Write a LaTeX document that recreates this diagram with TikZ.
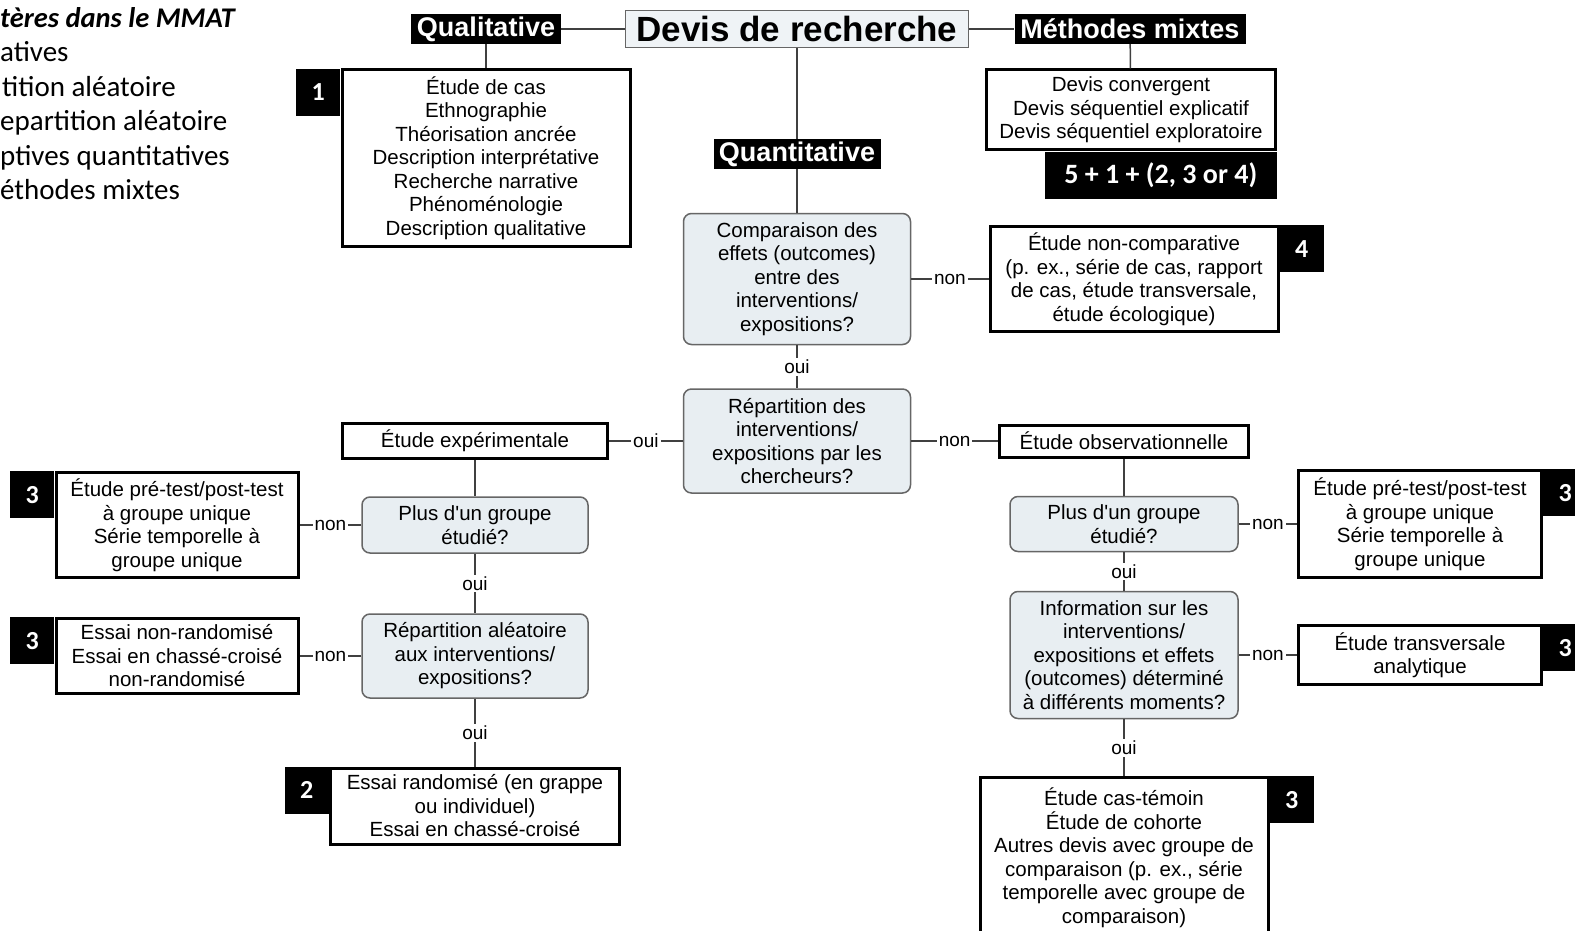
\documentclass[tikz,border=0pt]{standalone}
\usepackage{fontspec}
\setmainfont{Liberation Sans}
\newfontfamily\calibri{Carlito}
\usepackage{tikz}
\usetikzlibrary{positioning}

\definecolor{qfill}{HTML}{E8EEF2}
\definecolor{tfill}{HTML}{EFF3F6}
\definecolor{lineg}{HTML}{404040}

\tikzset{
  body/.style={font=\fontsize{20.5}{23.5}\selectfont},
  head/.style={fill=black,text=white,inner sep=0pt,minimum height=30,font=\fontsize{27}{30}\selectfont\bfseries},
  title/.style={fill=tfill,draw=gray!80!black,line width=1.5,inner sep=0pt,font=\fontsize{35}{38}\selectfont\bfseries},
  quest/.style={body,align=center,rounded corners=8,fill=qfill,draw=gray!80!black,line width=1.5,inner sep=3},
  res/.style={body,align=center,fill=white,draw=black,line width=3,inner sep=3},
  tag/.style={fill=black,text=white,inner sep=0pt,minimum width=44,minimum height=47,font=\calibri\bfseries\fontsize{26}{28}\selectfont},
  link/.style={draw=lineg,line width=1.5},
  lbl/.style={fill=white,inner sep=2,font=\fontsize{19}{21}\selectfont},
  side/.style={anchor=base west,inner sep=0pt,font=\calibri\fontsize{29}{31}\selectfont}
}

\begin{document}
\begin{tikzpicture}[x=1pt,y=-1pt]
    \useasboundingbox (0,0) rectangle (1575,931);
    \clip (0,0) rectangle (1575,931);
    \fill[white] (0,0) rectangle (1575,931);

    % texte coupé à gauche
    \node[side,font=\calibri\bfseries\itshape\fontsize{28.5}{30}\selectfont] (crit) at (0,28) {tères dans le MMAT};
    \node[side] (c1) at (0,62) {atives};
    \node[side] (c2) at (2,96.5) {tition aléatoire};
    \node[side] (c3) at (0,131) {epartition aléatoire};
    \node[side] (c4) at (0,165.5) {ptives quantitatives};
    \node[side] (c5) at (0,200) {éthodes mixtes};

    % en-tête
    \node[head,minimum width=150] (qual) at (486,29) {Qualitative};
    \node[title,minimum width=343,minimum height=37] (devis) at (797,29) {Devis de recherche};
    \node[head,minimum width=231] (mixte) at (1130,29) {Méthodes mixtes};

    \node[res,minimum width=288,minimum height=176] (qlist) at (486,158) {Étude de cas\\Ethnographie\\Théorisation ancrée\\Description interprétative\\Recherche narrative\\Phénoménologie\\Description qualitative};
    \node[tag,anchor=north east] (t1) at (qlist.north west) {1};

    \node[res,minimum width=289,minimum height=80] (mlist) at (1131,110) {Devis convergent\\Devis séquentiel explicatif\\Devis séquentiel exploratoire};
    \node[tag,anchor=north east,minimum width=232,font=\calibri\bfseries\fontsize{28}{30}\selectfont] (t5) at (mlist.south east) {5 + 1 + (2, 3 or 4)};

    % branche quantitative
    \node[head,minimum width=167] (quant) at (797,154) {Quantitative};
    \node[quest,minimum width=227,minimum height=131] (cmp) at (797,279) {Comparaison des\\effets (outcomes)\\entre des\\interventions/\\expositions?};
    \node[res,minimum width=288,minimum height=105] (ncmp) at (1134,279) {Étude non-comparative\\(p. ex., série de cas, rapport\\de cas, étude transversale,\\étude écologique)};
    \node[tag,anchor=north west] (t4) at (ncmp.north east) {4};

    \node[quest,minimum width=227,minimum height=104] (rep) at (797,441) {Répartition des\\interventions/\\expositions par les\\chercheurs?};
    \node[res,minimum width=265,minimum height=35] (exp) at (475,441) {Étude expérimentale};
    \node[res,minimum width=249,minimum height=32] (obs) at (1124,441) {Étude observationnelle};

    % côté expérimental
    \node[quest,minimum width=226,minimum height=56] (plusg) at (475,525) {Plus d\textquotesingle un groupe\\étudié?};
    \node[res,minimum width=242,minimum height=105] (prtg) at (177,525) {Étude pré-test/post-test\\à groupe unique\\Série temporelle à\\groupe unique};
    \node[tag,anchor=north east] (t3a) at (prtg.north west) {3};
    \node[quest,minimum width=226,minimum height=84] (aleat) at (475,656) {Répartition aléatoire\\aux interventions/\\expositions?};
    \node[res,minimum width=242,minimum height=75] (nrand) at (177,656) {Essai non-randomisé\\Essai en chassé-croisé\\non-randomisé};
    \node[tag,anchor=north east] (t3b) at (nrand.north west) {3};
    \node[res,minimum width=289,minimum height=76] (rand) at (475,806) {Essai randomisé (en grappe\\ou individuel)\\Essai en chassé-croisé};
    \node[tag,anchor=north east] (t2) at (rand.north west) {2};

    % côté observationnel
    \node[quest,minimum width=228,minimum height=55] (plusd) at (1124,524) {Plus d\textquotesingle un groupe\\étudié?};
    \node[res,minimum width=243,minimum height=107] (prtd) at (1420,524) {Étude pré-test/post-test\\à groupe unique\\Série temporelle à\\groupe unique};
    \node[tag,anchor=north west] (t3c) at (prtd.north east) {3};
    \node[quest,minimum width=228,minimum height=127] (info) at (1124,655) {Information sur les\\interventions/\\expositions et effets\\(outcomes) déterminé\\à différents moments?};
    \node[res,minimum width=243,minimum height=59] (trans) at (1420,655) {Étude transversale\\analytique};
    \node[tag,anchor=north west] (t3d) at (trans.north east) {3};
    \node[res,minimum width=288,minimum height=160,anchor=north] (cas) at (1124,776) {Étude cas-témoin\\Étude de cohorte\\Autres devis avec groupe de\\comparaison (p. ex., série\\temporelle avec groupe de\\comparaison)};
    \node[tag,anchor=north west] (t3e) at (cas.north east) {3};

    % liens
    \draw[link] (qual) -- (devis) -- (mixte);
    \draw[link] (qual) -- (qlist);
    \draw[link] (mixte) -- (mlist);
    \draw[link] (devis) -- (quant) -- (cmp);
    \draw[link] (cmp) -- node[lbl] {non} (ncmp);
    \draw[link] (cmp) -- node[lbl] {oui} (rep);
    \draw[link] (rep) -- node[lbl] {oui} (exp);
    \draw[link] (rep) -- node[lbl] {non} (obs);
    \draw[link] (exp) -- (plusg);
    \draw[link] (plusg) -- node[lbl] {non} (prtg);
    \draw[link] (plusg) -- node[lbl] {oui} (aleat);
    \draw[link] (aleat) -- node[lbl] {non} (nrand);
    \draw[link] (aleat) -- node[lbl] {oui} (rand);
    \draw[link] (obs) -- (plusd);
    \draw[link] (plusd) -- node[lbl] {non} (prtd);
    \draw[link] (plusd) -- node[lbl] {oui} (info);
    \draw[link] (info) -- node[lbl] {non} (trans);
    \draw[link] (info) -- node[lbl] {oui} (cas);
\end{tikzpicture}
\end{document}
